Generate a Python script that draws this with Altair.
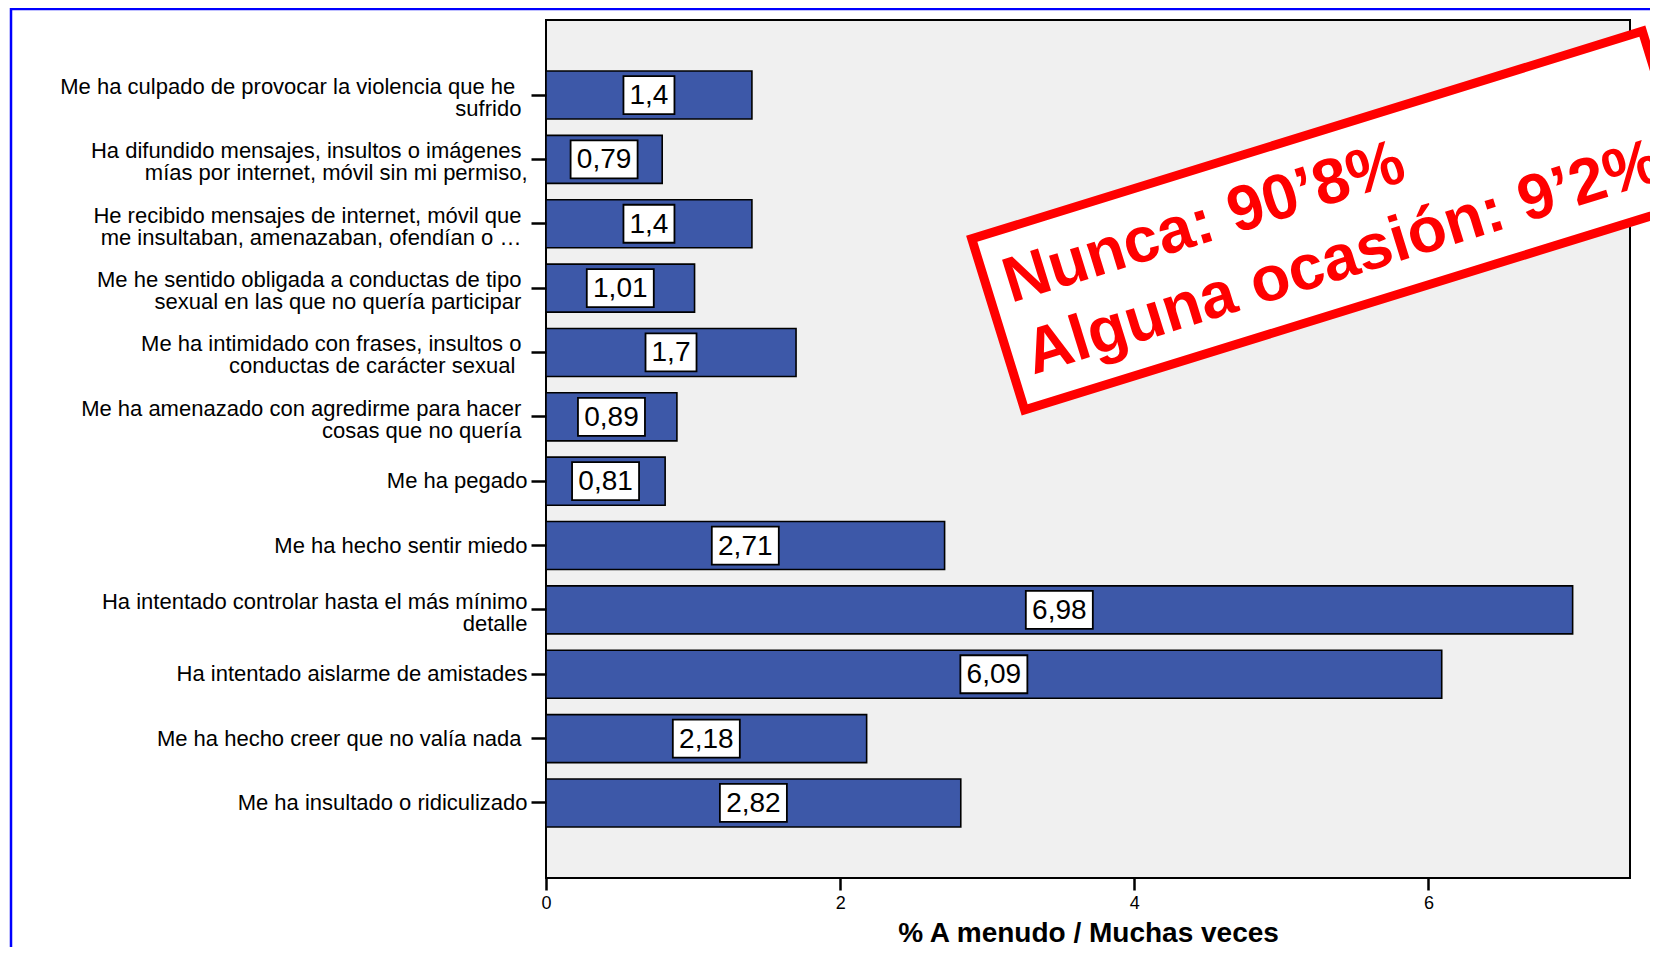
import altair as alt
import pandas as pd

# ---- data ----
S = "\u00a0\u200b"  # a kept trailing space
categories = [
    "Me ha culpado de provocar la violencia que he\u00a0" + S + "|sufrido" + S,
    "Ha difundido mensajes, insultos o imágenes" + S + "|mías por  internet, móvil sin mi permiso,",
    "He recibido mensajes de internet, móvil que" + S + "|me insultaban, amenazaban, ofendían  o …" + S,
    "Me he sentido obligada a conductas de tipo" + S + "|sexual en las que no quería participar" + S,
    "Me ha intimidado con frases, insultos o" + S + "|conductas de carácter sexual\u00a0" + S,
    "Me ha amenazado con agredirme para hacer" + S + "|cosas que no quería" + S,
    "Me ha pegado",
    "Me ha hecho sentir miedo",
    "Ha intentado controlar hasta el más mínimo|detalle",
    "Ha intentado aislarme de amistades",
    "Me ha hecho creer que no valía nada" + S,
    "Me ha insultado o ridiculizado",
]
values = [1.4, 0.79, 1.4, 1.01, 1.7, 0.89, 0.81, 2.71, 6.98, 6.09, 2.18, 2.82]
x_ticks = [0, 2, 4, 6]
x_title = "% A menudo / Muchas veces"
stamp_lines = ["Nunca: 90\u20198%", "Alguna ocasi\u00f3n: 9\u20192%"]

# ---- styles ----
FONT = "Liberation Sans, Arial, Helvetica, sans-serif"
BAR = "#3D58A8"
RED = "#FF0000"
W, H = 1084, 858

df = pd.DataFrame({"cat": categories, "val": values})
one = alt.Data(values=[{"k": 0}])

y_scale = alt.Scale(paddingInner=0.254, paddingOuter=0.793)
y_axis = alt.Axis(
    labelExpr="split(datum.label, '|')",
    labelFont=FONT, labelFontSize=22, labelLineHeight=22, labelLimit=1000,
    labelPadding=4, labelColor="black", labelAlign="right",
    labelOffset={"condition": {"test": "indexof(datum.value, '|') >= 0", "value": -8}, "value": 0},
    tickSize=15, tickWidth=2.5, tickColor="black",
    domain=False, grid=False, zindex=1,
)
x_scale = alt.Scale(domain=[0, 7.37], nice=False, zero=True)
x_axis = alt.Axis(
    values=x_ticks, format="d", labelFlush=False,
    labelFont=FONT, labelFontSize=18, labelColor="black", labelPadding=4,
    tickSize=12, tickWidth=2.5, tickColor="black",
    domain=False, grid=False, zindex=1,
    titleFont=FONT, titleFontSize=28, titleFontWeight="bold", titleColor="black",
    titleY=63, titleBaseline="alphabetic",
)

Y = alt.Y("cat:N", sort=categories, scale=y_scale, axis=y_axis, title=None)

plot_frame = alt.Chart(one).mark_rect(
    fill="#F0F0F0", stroke="black", strokeWidth=2
).encode(x=alt.value(0), x2=alt.value("width"), y=alt.value(0), y2=alt.value("height"))

bars = alt.Chart(df).mark_bar(fill=BAR, stroke="black", strokeWidth=1.6).encode(
    y=Y,
    x=alt.X("val:Q", scale=x_scale, axis=x_axis, title=x_title),
)

lab = alt.Chart(df).transform_calculate(
    mid="datum.val / 2",
    lbl="replace(format(datum.val, ''), '.', ',')",
)

BOX4 = "M-33.5,-19H33.5V19H-33.5Z"
BOX3 = "M-25.5,-19H25.5V19H-25.5Z"
boxes = lab.mark_point(
    size=4, filled=True, fill="white", stroke="black", strokeWidth=1.8,
    opacity=1, fillOpacity=1, strokeOpacity=1,
).encode(
    y=Y,
    x=alt.X("mid:Q", scale=x_scale, axis=x_axis, title=x_title),
    shape=alt.condition("length(datum.lbl) > 3", alt.value(BOX4), alt.value(BOX3)),
)

texts = lab.mark_text(
    font=FONT, fontSize=28, color="black", baseline="middle", align="center", dy=1
).encode(
    y=Y,
    x=alt.X("mid:Q", scale=x_scale, axis=x_axis, title=x_title),
    text="lbl:N",
)

STAMP = "M-351,-89.5H351V89.5H-351Z"
stamp_box = alt.Chart(one).mark_point(
    shape=STAMP, size=4, angle=342.8, filled=True, fill="white", stroke=RED,
    strokeWidth=9, opacity=1, fillOpacity=1, strokeOpacity=1,
).encode(x=alt.value(787.5), y=alt.value(200.5))

stamp_text = alt.Chart(one).mark_text(
    text=stamp_lines, font=FONT, fontSize=64, fontWeight="bold", color=RED,
    align="left", baseline="alphabetic", angle=342.8, lineHeight=75,
).encode(x=alt.value(465), y=alt.value(283))

blue_v = alt.Chart(one).mark_rule(color="#0000FF", strokeWidth=2.5).encode(
    x=alt.value(-535), y=alt.value(-12), y2=alt.value(1000)
)
blue_h = alt.Chart(one).mark_rule(color="#0000FF", strokeWidth=2.5).encode(
    x=alt.value(-536), x2=alt.value(1200), y=alt.value(-11)
)

chart = alt.layer(
    plot_frame, bars, boxes, texts, stamp_box, stamp_text, blue_v, blue_h
).properties(
    width=W, height=H,
    padding={"left": 538, "top": 12, "right": 20, "bottom": 69},
    autosize=alt.AutoSizeParams(type="none"),
    background="white",
).configure_view(strokeWidth=0)

chart.save("out.html", embed_options={"renderer": "svg", "actions": False})
